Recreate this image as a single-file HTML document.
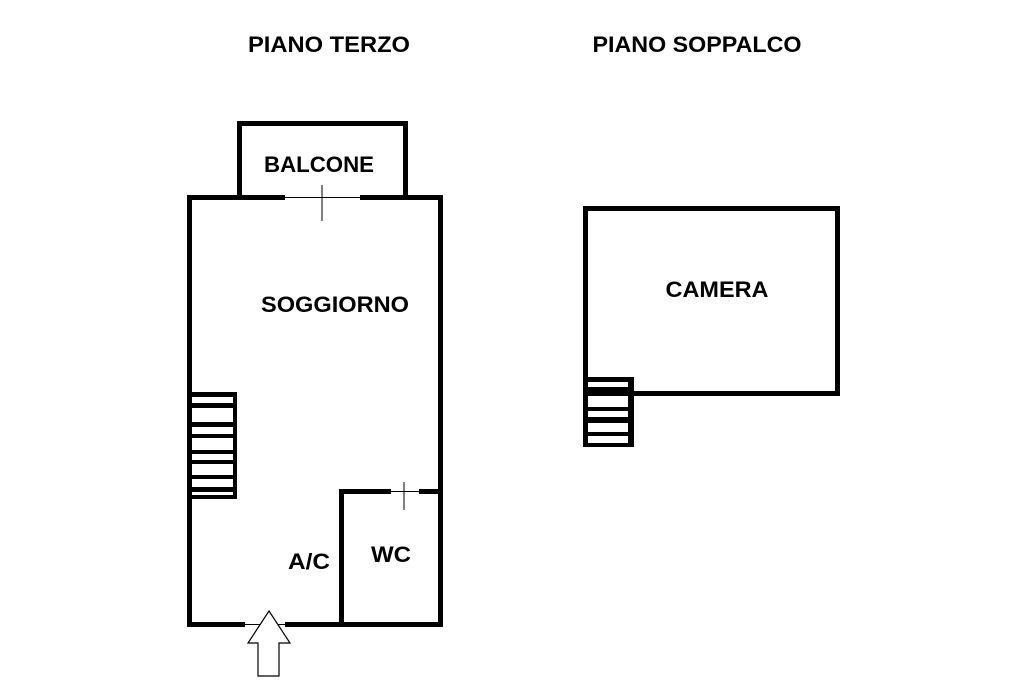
<!DOCTYPE html>
<html><head><style>
html,body{margin:0;padding:0;background:#fff;}
svg{display:block;}
text{font-family:"Liberation Sans",sans-serif;font-weight:bold;font-size:22px;fill:#000;text-anchor:middle;}
</style></head><body>
<svg width="1024" height="683" viewBox="0 0 1024 683" xmlns="http://www.w3.org/2000/svg">
<rect width="1024" height="683" fill="#fff"/>
<text x="329" y="52" textLength="162" lengthAdjust="spacingAndGlyphs">PIANO TERZO</text>
<text x="697" y="52" textLength="209" lengthAdjust="spacingAndGlyphs">PIANO SOPPALCO</text>
<!-- balcone -->
<rect x="239.5" y="123.5" width="166" height="74" fill="none" stroke="#000" stroke-width="5"/>
<!-- main room -->
<rect x="189.5" y="197.5" width="251" height="427" fill="none" stroke="#000" stroke-width="5"/>
<!-- window gap top -->
<rect x="285" y="195" width="75" height="5" fill="#fff"/>
<line x1="285" y1="197.5" x2="360" y2="197.5" stroke="#000" stroke-width="1"/>
<line x1="322" y1="185" x2="322" y2="221" stroke="#000" stroke-width="1"/>
<!-- entrance gap -->
<rect x="245" y="621" width="40" height="7" fill="#fff"/>
<line x1="245" y1="624.5" x2="285" y2="624.5" stroke="#000" stroke-width="1"/>
<!-- arrow -->
<polygon points="269,611 290,643 279,643 279,676 258,676 258,643 248,643" fill="#fff" stroke="#000" stroke-width="1.2"/>
<!-- WC -->
<rect x="339" y="489" width="5" height="137" fill="#000"/>
<rect x="339" y="489" width="104" height="5" fill="#000"/>
<rect x="391" y="489" width="28" height="5" fill="#fff"/>
<line x1="391" y1="491.5" x2="419" y2="491.5" stroke="#000" stroke-width="1"/>
<line x1="404" y1="482" x2="404" y2="510" stroke="#000" stroke-width="1"/>
<!-- stairs left -->
<g fill="#000">
<rect x="233" y="392" width="4" height="107"/>
<rect x="192" y="392" width="45" height="5"/>
<rect x="192" y="403" width="45" height="5"/>
<rect x="192" y="422" width="45" height="5"/>
<rect x="192" y="434" width="45" height="4"/>
<rect x="192" y="450" width="45" height="4"/>
<rect x="192" y="460" width="45" height="4"/>
<rect x="192" y="475" width="45" height="4"/>
<rect x="192" y="487" width="45" height="5"/>
<rect x="192" y="495" width="45" height="4"/>
</g>
<!-- camera -->
<rect x="585.5" y="208.5" width="252" height="185" fill="none" stroke="#000" stroke-width="5"/>
<g fill="#000">
<rect x="583" y="377" width="5" height="70"/>
<rect x="628" y="377" width="6" height="70"/>
<rect x="583" y="377" width="51" height="5"/>
<rect x="583" y="387" width="51" height="6"/>
<rect x="583" y="407" width="51" height="4"/>
<rect x="583" y="417" width="51" height="6"/>
<rect x="583" y="432" width="51" height="4"/>
<rect x="583" y="443" width="51" height="4"/>
</g>
<text x="319" y="172" textLength="110" lengthAdjust="spacingAndGlyphs">BALCONE</text>
<text x="335" y="312" textLength="148" lengthAdjust="spacingAndGlyphs">SOGGIORNO</text>
<text x="717" y="297" textLength="103" lengthAdjust="spacingAndGlyphs">CAMERA</text>
<text x="309" y="569" textLength="42" lengthAdjust="spacingAndGlyphs">A/C</text>
<text x="391" y="562" textLength="40" lengthAdjust="spacingAndGlyphs">WC</text>
</svg>
</body></html>
